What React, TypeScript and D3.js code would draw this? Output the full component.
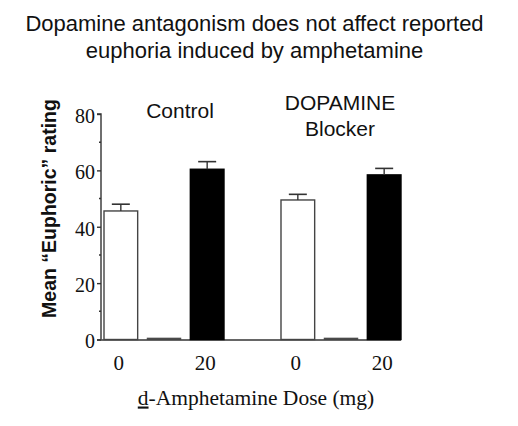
import { useEffect, useRef } from 'react';
import * as d3 from 'd3';

// ==========================================
// DATA
// ==========================================
const groups = ['Control', 'DOPAMINE Blocker'];
const groupTitles = [['Control'], ['DOPAMINE', 'Blocker']];
const barKeys = ['low', 'empty', 'high'];
const doseLabels = ['0', '', '20'];
const barFills = ['#ffffff', '#ffffff', '#000000'];

const controlMeans = [45.6, 0.5, 60.4];
const controlErrors = [2.4, 0, 2.7];
const blockerMeans = [49.5, 0.5, 58.4];
const blockerErrors = [2.0, 0, 2.3];

const yTicks = [0, 20, 40, 60, 80];
const yMinorTicks = [10, 30, 50, 70];

const titleLines = [
    'Dopamine antagonism does not affect reported',
    'euphoria induced by amphetamine',
];

const App = () => {
    const svgRef = useRef<SVGSVGElement>(null);

    useEffect(() => {
        const width = 518;
        const height = 426;

        d3.select(svgRef.current).selectAll('*').remove();

        const svg = d3
            .select(svgRef.current)
            .attr('width', width)
            .attr('height', height)
            .attr('viewBox', `0 0 ${width} ${height}`);

        svg.append('rect')
            .attr('width', width)
            .attr('height', height)
            .attr('fill', '#ffffff');

        const means = [controlMeans, blockerMeans];
        const errors = [controlErrors, blockerErrors];

        const rows = groups.flatMap((g, gi) =>
            barKeys.map((k, ki) => ({
                group: g,
                key: k,
                mean: means[gi][ki],
                err: errors[gi][ki],
                fill: barFills[ki],
                label: doseLabels[ki],
            }))
        );

        // ==========================================
        // SCALES
        // ==========================================
        const axisX = 101;
        const axisY = 339.5;

        const yScale = d3.scaleLinear().domain([0, 80]).range([axisY, 114]);

        const x0 = d3
            .scaleBand()
            .domain(groups)
            .range([104, 401])
            .paddingInner(0.322)
            .paddingOuter(0);

        const x1 = d3
            .scaleBand()
            .domain(barKeys)
            .range([0, x0.bandwidth()])
            .paddingInner(0.22)
            .paddingOuter(0);

        // ==========================================
        // TITLE
        // ==========================================
        svg.append('g')
            .selectAll('text')
            .data(titleLines)
            .enter()
            .append('text')
            .attr('x', 254.5)
            .attr('y', (_d, i) => 31 + i * 26.5)
            .attr('text-anchor', 'middle')
            .style('font-family', '"Liberation Sans", Arial, sans-serif')
            .style('font-size', '22px')
            .style('fill', '#111')
            .text((d) => d);

        // ==========================================
        // AXES
        // ==========================================
        const yAxis = svg.append('g')
            .attr('transform', `translate(${axisX},0)`)
            .call(
                d3.axisLeft(yScale)
                    .tickValues(yTicks)
                    .tickSize(4)
                    .tickPadding(2)
                    .tickFormat(d3.format('d'))
            );
        yAxis.select('.domain')
            .attr('d', `M-4,${yScale(80)}H0V${axisY}`)
            .attr('stroke', '#333')
            .attr('stroke-width', 1.4);
        yAxis.selectAll('.tick line').attr('stroke', '#333').attr('stroke-width', 1.4);
        yAxis.selectAll('.tick text')
            .style('font-family', '"Liberation Serif", "Times New Roman", serif')
            .style('font-size', '20px')
            .attr('dy', '0.42em')
            .style('fill', '#111');

        svg.append('g')
            .selectAll('line')
            .data(yMinorTicks)
            .enter()
            .append('line')
            .attr('x1', axisX - 2)
            .attr('x2', axisX)
            .attr('y1', (d) => yScale(d))
            .attr('y2', (d) => yScale(d))
            .attr('stroke', '#333')
            .attr('stroke-width', 1.4);

        // x axis baseline
        svg.append('line')
            .attr('x1', axisX - 4)
            .attr('x2', 401)
            .attr('y1', axisY + 0.5)
            .attr('y2', axisY + 0.5)
            .attr('stroke', '#333')
            .attr('stroke-width', 1.5);

        // ==========================================
        // BARS
        // ==========================================
        const barX = (d: any) => (x0(d.group) as number) + (x1(d.key) as number);

        svg.append('g')
            .selectAll('rect')
            .data(rows)
            .enter()
            .append('rect')
            .attr('x', barX)
            .attr('y', (d) => yScale(d.mean))
            .attr('width', x1.bandwidth())
            .attr('height', (d) => axisY - yScale(d.mean))
            .attr('fill', (d) => (d.key === 'empty' ? '#444' : d.fill))
            .attr('stroke', (d) => (d.fill === '#000000' ? '#000' : '#444'))
            .attr('stroke-width', (d) => (d.key === 'empty' ? 0.8 : 1.4));

        // error bars
        const errRows = rows.filter((d) => d.err > 0);
        const eb = svg.append('g')
            .selectAll('g')
            .data(errRows)
            .enter()
            .append('g');

        eb.append('line')
            .attr('x1', (d) => barX(d) + x1.bandwidth() / 2)
            .attr('x2', (d) => barX(d) + x1.bandwidth() / 2)
            .attr('y1', (d) => yScale(d.mean))
            .attr('y2', (d) => yScale(d.mean + d.err))
            .attr('stroke', '#333')
            .attr('stroke-width', 1.4);

        eb.append('line')
            .attr('x1', (d) => barX(d) + x1.bandwidth() / 2 - 9)
            .attr('x2', (d) => barX(d) + x1.bandwidth() / 2 + 9)
            .attr('y1', (d) => yScale(d.mean + d.err))
            .attr('y2', (d) => yScale(d.mean + d.err))
            .attr('stroke', '#333')
            .attr('stroke-width', 1.6);

        // dose tick labels
        svg.append('g')
            .selectAll('text')
            .data(rows.filter((d) => d.label !== ''))
            .enter()
            .append('text')
            .attr('x', (d) => barX(d) + x1.bandwidth() / 2 - 2)
            .attr('y', 370)
            .attr('text-anchor', 'middle')
            .style('font-family', '"Liberation Serif", "Times New Roman", serif')
            .style('font-size', '21px')
            .style('fill', '#111')
            .text((d) => d.label);

        // group titles
        const gt = svg.append('g')
            .selectAll('text')
            .data(groups)
            .enter()
            .append('text')
            .attr('x', (d) => (x0(d) as number) + x0.bandwidth() / 2 + 16)
            .attr('y', (_d, i) => (i === 0 ? 118 : 110))
            .attr('text-anchor', 'middle')
            .style('font-family', '"Liberation Sans", Arial, sans-serif')
            .style('font-size', '21px')
            .style('fill', '#111');

        gt.each(function (d, i) {
            const el = d3.select(this);
            groupTitles[i].forEach((line, li) => {
                el.append('tspan')
                    .attr('x', (x0(d) as number) + x0.bandwidth() / 2 + 16 - (i === 1 ? 17 : 0))
                    .attr('dy', li === 0 ? 0 : 26)
                    .text(line);
            });
        });

        // ==========================================
        // AXIS TITLES
        // ==========================================
        svg.append('text')
            .attr('transform', 'translate(56,208.5) rotate(-90)')
            .attr('text-anchor', 'middle')
            .style('font-family', '"Liberation Sans", Arial, sans-serif')
            .style('font-size', '19.5px')
            .style('font-weight', 'bold')
            .style('fill', '#111')
            .text('Mean \u201cEuphoric\u201d rating');

        const xl = svg.append('text')
            .attr('x', 256)
            .attr('y', 404.5)
            .attr('text-anchor', 'middle')
            .style('font-family', '"Liberation Serif", "Times New Roman", serif')
            .style('font-size', '21.5px')
            .style('fill', '#111');
        xl.append('tspan').style('text-decoration', 'underline').text('d');
        xl.append('tspan').text('-Amphetamine Dose (mg)');
    }, []);

    return (
        <div style={{ position: 'absolute', left: 0, top: 0 }}>
            <svg ref={svgRef} style={{ display: 'block' }}></svg>
        </div>
    );
};

export default App;
